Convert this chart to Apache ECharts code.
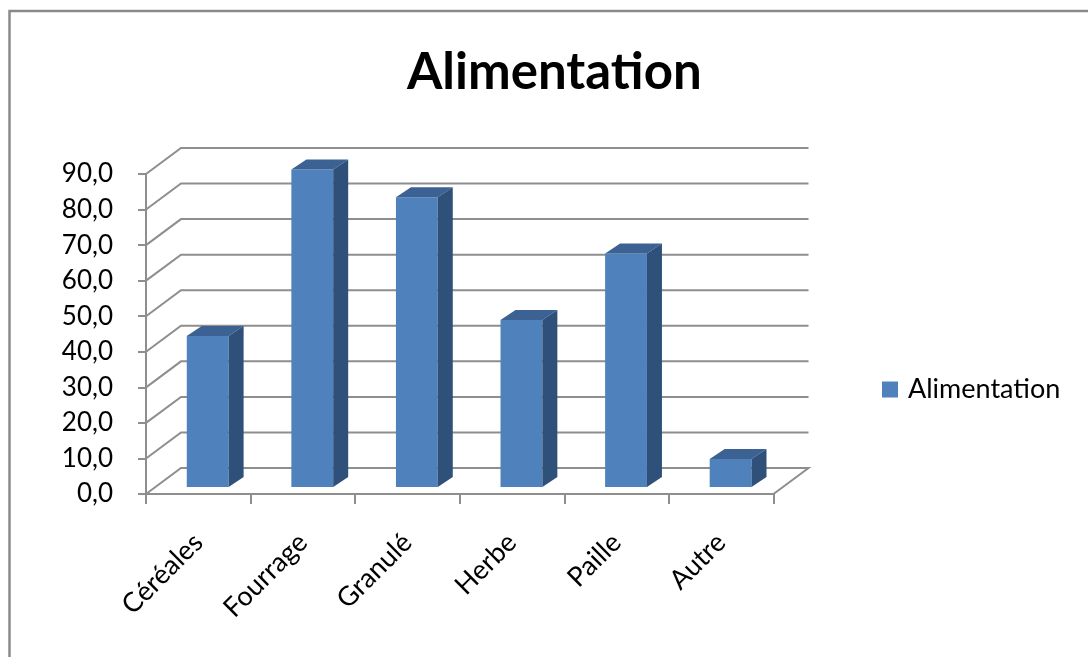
<!DOCTYPE html>
<html>
<head>
<meta charset="utf-8">
<title>Alimentation</title>
<script src="https://cdn.jsdelivr.net/npm/echarts@6/dist/echarts.min.js"></script>
<style>
  html, body { margin: 0; padding: 0; background: #ffffff; }
  #chart { width: 1088px; height: 657px; }
</style>
</head>
<body>
<div id="chart"></div>
<script>
// Feeding categories and their shares
const categories = ['Céréales', 'Fourrage', 'Granulé', 'Herbe', 'Paille', 'Autre'];
const values = [42.5, 89.3, 81.5, 47.0, 65.7, 7.9];
const yTicks = [0, 10, 20, 30, 40, 50, 60, 70, 80, 90];

// Pseudo-3D geometry (pixels): wall depth, bar placement inside the depth, bar thickness
const WALL_DX = 35, WALL_DY = -26;
const BAR_SX = 9.4, BAR_SY = -7;
const BAR_DX = 15, BAR_DY = -10;
const BAR_RATIO = 0.4;

const GRID_COLOR = '#8e8e8e';
const FRONT = '#4f81bd', TOP = '#3b6292', SIDE = '#2f5079';
const FONT = 'Lato';

const chart = echarts.init(document.getElementById('chart'), null, { renderer: 'canvas' });

function renderWalls(params, api) {
  const cs = params.coordSys;
  const v = api.value(1);
  const y = api.coord([0, v])[1];
  const xl = cs.x, xr = cs.x + cs.width;
  const pts = [[xl, y], [xl + WALL_DX, y + WALL_DY], [xr + WALL_DX, y + WALL_DY]];
  if (v === 0) pts.push([xr, y]);
  return {
    type: 'polyline',
    shape: { points: pts },
    style: { stroke: GRID_COLOR, lineWidth: 2, fill: null },
    silent: true
  };
}

function renderBar(params, api) {
  const idx = api.value(0), v = api.value(1);
  const base = api.coord([idx, 0]);
  const top = api.coord([idx, v]);
  const w = api.size([1, 0])[0] * BAR_RATIO;
  const x0 = base[0] - w / 2 + BAR_SX, x1 = x0 + w;
  const yb = base[1] + BAR_SY, yt = top[1] + BAR_SY;
  return {
    type: 'group',
    children: [
      { type: 'rect', shape: { x: x0, y: yt, width: w, height: yb - yt },
        style: { fill: FRONT } },
      { type: 'polygon',
        shape: { points: [[x0, yt], [x0 + BAR_DX, yt + BAR_DY], [x1 + BAR_DX, yt + BAR_DY], [x1, yt]] },
        style: { fill: TOP } },
      { type: 'polygon',
        shape: { points: [[x1, yt], [x1 + BAR_DX, yt + BAR_DY], [x1 + BAR_DX, yb + BAR_DY], [x1, yb]] },
        style: { fill: SIDE } }
    ]
  };
}

chart.setOption({
  backgroundColor: '#ffffff',
  animation: false,
  textStyle: { fontFamily: FONT },
  title: {
    text: 'Alimentation',
    left: 407,
    top: 47,
    padding: 0,
    textStyle: { fontFamily: FONT, fontWeight: 'bold', fontSize: 51, color: '#000000', lineHeight: 51 }
  },
  legend: {
    data: ['Alimentation'],
    left: 877,
    top: 371,
    orient: 'vertical',
    icon: 'rect',
    itemWidth: 16,
    itemHeight: 16,
    textStyle: { fontFamily: FONT, fontSize: 27, color: '#000000', padding: [0, 0, 0, 5] }
  },
  grid: { left: 146, right: 314.5, top: 174, bottom: 163 },
  xAxis: {
    type: 'category',
    data: categories,
    boundaryGap: true,
    axisLine: { show: true, lineStyle: { color: GRID_COLOR, width: 2 } },
    axisTick: { show: true, length: 10, lineStyle: { color: GRID_COLOR, width: 2 } },
    axisLabel: { rotate: 45, margin: 44, fontSize: 27, color: '#000000', fontFamily: FONT, interval: 0 },
    splitLine: { show: false }
  },
  yAxis: {
    type: 'value',
    min: 0,
    max: 90,
    interval: 10,
    axisLine: { show: true, lineStyle: { color: GRID_COLOR, width: 2 } },
    axisTick: { show: true, length: 8, lineStyle: { color: GRID_COLOR, width: 2 } },
    axisLabel: {
      margin: 33, fontSize: 26, color: '#000000', fontFamily: FONT,
      formatter: v => v.toFixed(1).replace('.', ',')
    },
    splitLine: { show: false }
  },
  graphic: [{
    type: 'rect',
    silent: true,
    shape: { x: 9.5, y: 11, width: 1200, height: 800 },
    style: { fill: null, stroke: '#8a8a8a', lineWidth: 2.5 }
  }],
  series: [
    {
      name: 'walls',
      type: 'custom',
      renderItem: renderWalls,
      data: yTicks.map(t => [0, t]),
      encode: { x: 0, y: 1 },
      z: 1,
      silent: true
    },
    {
      name: 'Alimentation',
      type: 'custom',
      renderItem: renderBar,
      data: values.map((v, i) => [i, v]),
      encode: { x: 0, y: 1 },
      itemStyle: { color: FRONT },
      z: 2
    }
  ]
});
</script>
</body>
</html>
